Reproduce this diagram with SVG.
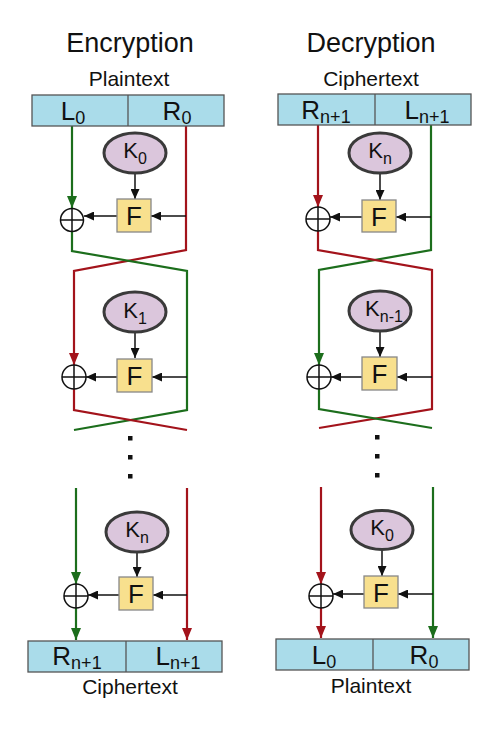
<svg xmlns="http://www.w3.org/2000/svg" width="500" height="732" viewBox="0 0 500 732">
<defs>
<style>
text{font-family:"Liberation Sans",Arial,sans-serif;fill:#111;}
.title{font-size:27px;text-anchor:middle;}
.lbl{font-size:21px;text-anchor:middle;}
.box{fill:#aadcea;stroke:#555;stroke-width:1.3;}
.half{font-size:26px;text-anchor:middle;}
.sub{font-size:18px;}
.key{fill:#dbc6dc;stroke:#3a3a3a;stroke-width:3;}
.ktxt{font-size:22px;text-anchor:middle;}
.ksub{font-size:16px;}
.f{fill:#f8e08e;stroke:#888;stroke-width:1.3;}
.ftxt{font-size:26px;text-anchor:middle;}
.xor{fill:#fff;stroke:#111;stroke-width:1.5;}
.g{fill:none;stroke:#1c6e1c;stroke-width:2.2;}
.r{fill:none;stroke:#a3131b;stroke-width:2.2;}
.k{fill:none;stroke:#111;stroke-width:1.5;}
.dot{fill:#111;}
</style>
<marker id="ag" viewBox="0 0 12 10" refX="12" refY="5" markerWidth="12" markerHeight="10" orient="auto" markerUnits="userSpaceOnUse"><path d="M0,0 L12,5 L0,10 z" fill="#1c6e1c"/></marker>
<marker id="ar" viewBox="0 0 12 10" refX="12" refY="5" markerWidth="12" markerHeight="10" orient="auto" markerUnits="userSpaceOnUse"><path d="M0,0 L12,5 L0,10 z" fill="#a3131b"/></marker>
<marker id="ak" viewBox="0 0 10 9" refX="10" refY="4.5" markerWidth="10" markerHeight="9" orient="auto" markerUnits="userSpaceOnUse"><path d="M0,0 L10,4.5 L0,9 z" fill="#111"/></marker>
</defs>
<rect width="500" height="732" fill="#fff"/>

<!-- ========== connectors ========== -->
<g id="connectors">
<!-- Encryption round 1 -->
<path class="g" d="M72,126 V208" marker-end="url(#ag)"/>
<path class="r" d="M186,126 V250 L74,271 V365" marker-end="url(#ar)"/>
<path class="g" d="M72,232 V251 L187,271 V410 L74,430"/>
<path class="k" d="M135,173 V199" marker-end="url(#ak)"/>
<path class="k" d="M186,216 H151" marker-end="url(#ak)"/>
<path class="k" d="M117,216 H84" marker-end="url(#ak)"/>
<!-- Encryption round 2 -->
<path class="r" d="M74,389 V410 L187,430"/>
<path class="k" d="M135,332 V358" marker-end="url(#ak)"/>
<path class="k" d="M187,377 H152" marker-end="url(#ak)"/>
<path class="k" d="M117,377 H86" marker-end="url(#ak)"/>
<!-- Encryption last round -->
<path class="g" d="M76,488 V584" marker-end="url(#ag)"/>
<path class="g" d="M76,608 V640" marker-end="url(#ag)"/>
<path class="r" d="M187,488 V640" marker-end="url(#ar)"/>
<path class="k" d="M137,552 V577" marker-end="url(#ak)"/>
<path class="k" d="M187,595 H153" marker-end="url(#ak)"/>
<path class="k" d="M119,595 H88" marker-end="url(#ak)"/>

<!-- Decryption round 1 -->
<path class="r" d="M318,125 V207" marker-end="url(#ar)"/>
<path class="g" d="M431,125 V250 L319,270 V365" marker-end="url(#ag)"/>
<path class="r" d="M318,230 V250 L432,270 V409 L319,428"/>
<path class="k" d="M380,173 V200" marker-end="url(#ak)"/>
<path class="k" d="M431,217 H396" marker-end="url(#ak)"/>
<path class="k" d="M362,217 H330" marker-end="url(#ak)"/>
<!-- Decryption round 2 -->
<path class="g" d="M319,389 V409 L432,428"/>
<path class="k" d="M380,331 V357" marker-end="url(#ak)"/>
<path class="k" d="M432,377 H397" marker-end="url(#ak)"/>
<path class="k" d="M362,377 H331" marker-end="url(#ak)"/>
<!-- Decryption last round -->
<path class="r" d="M321,487 V584" marker-end="url(#ar)"/>
<path class="r" d="M321,608 V638" marker-end="url(#ar)"/>
<path class="g" d="M433,487 V638" marker-end="url(#ag)"/>
<path class="k" d="M382,549 V576" marker-end="url(#ak)"/>
<path class="k" d="M433,594 H398" marker-end="url(#ak)"/>
<path class="k" d="M364,594 H333" marker-end="url(#ak)"/>
</g>

<!-- ========== Encryption ========== -->
<g id="enc-title"><text class="title" x="130" y="52">Encryption</text></g>
<g id="enc-plaintext">
<text class="lbl" x="129" y="86">Plaintext</text>
<rect class="box" x="32" y="95" width="192" height="31"/>
<line x1="128" y1="95" x2="128" y2="126" stroke="#555" stroke-width="1.3"/>
<text class="half" x="73" y="120">L<tspan class="sub" dy="4">0</tspan></text>
<text class="half" x="177" y="120">R<tspan class="sub" dy="4">0</tspan></text>
</g>
<g id="enc-k0"><ellipse class="key" cx="135" cy="153" rx="31" ry="20"/><text class="ktxt" x="135" y="158">K<tspan class="ksub" dy="6">0</tspan></text></g>
<g id="enc-f1"><rect class="f" x="117" y="199" width="34" height="33"/><text class="ftxt" x="134" y="225">F</text></g>
<g id="enc-xor1"><circle class="xor" cx="72" cy="220" r="11.5"/><path class="k" d="M60.5,220 H83.5 M72,208.5 V231.5"/></g>

<g id="enc-k1"><ellipse class="key" cx="135" cy="312" rx="31" ry="20"/><text class="ktxt" x="135" y="318">K<tspan class="ksub" dy="6">1</tspan></text></g>
<g id="enc-f2"><rect class="f" x="117" y="359" width="35" height="33"/><text class="ftxt" x="134.5" y="385">F</text></g>
<g id="enc-xor2"><circle class="xor" cx="74" cy="377" r="12"/><path class="k" d="M62,377 H86 M74,365 V389"/></g>

<g id="enc-dots"><rect class="dot" x="128" y="436" width="4.5" height="4.5"/><rect class="dot" x="128" y="455" width="4.5" height="4.5"/><rect class="dot" x="128" y="474" width="4.5" height="4.5"/></g>

<g id="enc-kn"><ellipse class="key" cx="137" cy="532" rx="31" ry="20"/><text class="ktxt" x="137" y="537">K<tspan class="ksub" dy="6">n</tspan></text></g>
<g id="enc-f3"><rect class="f" x="119" y="577" width="34" height="33"/><text class="ftxt" x="136" y="603">F</text></g>
<g id="enc-xor3"><circle class="xor" cx="76" cy="596" r="12"/><path class="k" d="M64,596 H88 M76,584 V608"/></g>

<g id="enc-ciphertext">
<rect class="box" x="28" y="641" width="194" height="31"/>
<line x1="126" y1="641" x2="126" y2="672" stroke="#555" stroke-width="1.3"/>
<text class="half" x="77" y="665">R<tspan class="sub" dy="4">n+1</tspan></text>
<text class="half" x="178" y="665">L<tspan class="sub" dy="4">n+1</tspan></text>
<text class="lbl" x="130" y="694">Ciphertext</text>
</g>

<!-- ========== Decryption ========== -->
<g id="dec-title"><text class="title" x="371" y="52">Decryption</text></g>
<g id="dec-ciphertext">
<text class="lbl" x="371" y="86">Ciphertext</text>
<rect class="box" x="278" y="94" width="193" height="31"/>
<line x1="375" y1="94" x2="375" y2="125" stroke="#555" stroke-width="1.3"/>
<text class="half" x="326" y="119">R<tspan class="sub" dy="4">n+1</tspan></text>
<text class="half" x="427" y="119">L<tspan class="sub" dy="4">n+1</tspan></text>
</g>
<g id="dec-kn"><ellipse class="key" cx="380" cy="153" rx="31" ry="20"/><text class="ktxt" x="380" y="158">K<tspan class="ksub" dy="6">n</tspan></text></g>
<g id="dec-f1"><rect class="f" x="362" y="200" width="34" height="32"/><text class="ftxt" x="379" y="226">F</text></g>
<g id="dec-xor1"><circle class="xor" cx="318" cy="219" r="12"/><path class="k" d="M306,219 H330 M318,207 V231"/></g>

<g id="dec-kn1"><ellipse class="key" cx="380" cy="311" rx="31" ry="20"/><text class="ktxt" x="384" y="316">K<tspan class="ksub" dy="6">n-1</tspan></text></g>
<g id="dec-f2"><rect class="f" x="362" y="357" width="35" height="33"/><text class="ftxt" x="379.5" y="383">F</text></g>
<g id="dec-xor2"><circle class="xor" cx="319" cy="377" r="12"/><path class="k" d="M307,377 H331 M319,365 V389"/></g>

<g id="dec-dots"><rect class="dot" x="375" y="435" width="4.5" height="4.5"/><rect class="dot" x="375" y="454" width="4.5" height="4.5"/><rect class="dot" x="375" y="473" width="4.5" height="4.5"/></g>

<g id="dec-k0"><ellipse class="key" cx="382" cy="530" rx="31" ry="19.5"/><text class="ktxt" x="382" y="535">K<tspan class="ksub" dy="6">0</tspan></text></g>
<g id="dec-f3"><rect class="f" x="364" y="576" width="34" height="32"/><text class="ftxt" x="381" y="602">F</text></g>
<g id="dec-xor3"><circle class="xor" cx="321" cy="596" r="12"/><path class="k" d="M309,596 H333 M321,584 V608"/></g>

<g id="dec-plaintext">
<rect class="box" x="276" y="639" width="193" height="31"/>
<line x1="373" y1="639" x2="373" y2="670" stroke="#555" stroke-width="1.3"/>
<text class="half" x="324" y="664">L<tspan class="sub" dy="4">0</tspan></text>
<text class="half" x="424" y="664">R<tspan class="sub" dy="4">0</tspan></text>
<text class="lbl" x="371" y="693">Plaintext</text>
</g>
</svg>
